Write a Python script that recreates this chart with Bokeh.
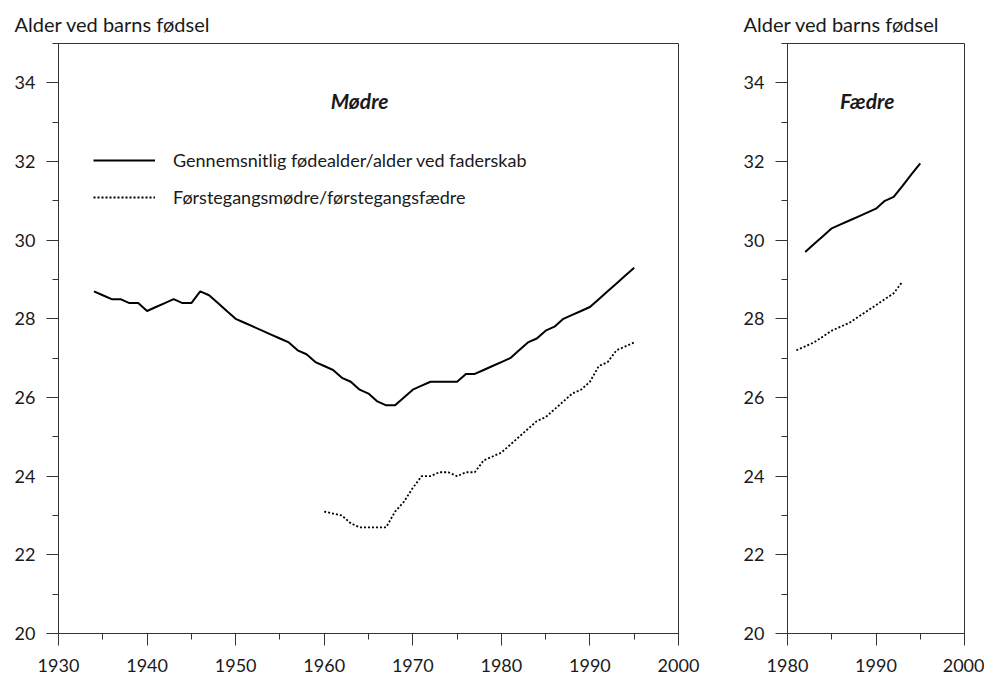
from bokeh.plotting import figure
from bokeh.layouts import row
from bokeh.models import Range1d, FixedTicker, Legend, LegendItem, Label, Title
from bokeh.embed import file_html
from bokeh.resources import INLINE

# ---- data ----
mothers_years = list(range(1934, 1996))
mothers_avg = [28.7, 28.6, 28.5, 28.5, 28.4, 28.4, 28.2, 28.3, 28.4, 28.5,
               28.4, 28.4, 28.7, 28.6, 28.4, 28.2, 28.0, 27.9, 27.8, 27.7,
               27.6, 27.5, 27.4, 27.2, 27.1, 26.9, 26.8, 26.7, 26.5, 26.4,
               26.2, 26.1, 25.9, 25.8, 25.8, 26.0, 26.2, 26.3, 26.4, 26.4,
               26.4, 26.4, 26.6, 26.6, 26.7, 26.8, 26.9, 27.0, 27.2, 27.4,
               27.5, 27.7, 27.8, 28.0, 28.1, 28.2, 28.3, 28.5, 28.7, 28.9,
               29.1, 29.3]
first_mothers_years = list(range(1960, 1996))
first_mothers = [23.1, 23.05, 23.0, 22.8, 22.7, 22.7, 22.7, 22.7, 23.1, 23.35,
                 23.7, 24.0, 24.0, 24.1, 24.1, 24.0, 24.1, 24.1, 24.4, 24.5,
                 24.6, 24.8, 25.0, 25.2, 25.4, 25.5, 25.7, 25.9, 26.1, 26.2,
                 26.4, 26.8, 26.9, 27.2, 27.3, 27.4]
fathers_years = list(range(1982, 1996))
fathers_avg = [29.7, 29.9, 30.1, 30.3, 30.4, 30.5, 30.6, 30.7, 30.8, 31.0,
               31.1, 31.38, 31.67, 31.95]
first_fathers_years = list(range(1981, 1994))
first_fathers = [27.2, 27.3, 27.4, 27.55, 27.7, 27.8, 27.9, 28.05, 28.2, 28.35,
                 28.5, 28.65, 28.95]

y_ticks = [20, 22, 24, 26, 28, 30, 32, 34]
y_minor = [21, 23, 25, 27, 29, 31, 33, 35]
x_ticks_left = [1930, 1940, 1950, 1960, 1970, 1980, 1990, 2000]
x_minor_left = [1935, 1945, 1955, 1965, 1975, 1985, 1995]
x_ticks_right = [1980, 1990, 2000]
x_minor_right = [1985, 1995]

y_title = "Alder ved barns fødsel"
legend_labels = ["Gennemsnitlig fødealder/alder ved faderskab",
                 "Førstegangsmødre/førstegangsfædre"]

FONT = "Lato"
TXT = "#1a1a1a"
AX = "#333333"
DOT = "2 2"


def style(p, xt, xm):
    p.xgrid.visible = False
    p.ygrid.visible = False
    p.outline_line_color = AX
    p.outline_line_width = 1
    p.xaxis.ticker = FixedTicker(ticks=xt, minor_ticks=xm)
    p.yaxis.ticker = FixedTicker(ticks=y_ticks, minor_ticks=y_minor)
    for ax in (p.xaxis[0], p.yaxis[0]):
        ax.axis_line_color = AX
        ax.major_tick_line_color = AX
        ax.minor_tick_line_color = AX
        ax.major_tick_in = 0
        ax.major_tick_out = 12
        ax.minor_tick_in = 0
        ax.minor_tick_out = 6
        ax.major_label_text_font = FONT
        ax.major_label_text_font_size = "18px"
        ax.major_label_text_color = TXT
    p.yaxis[0].major_label_standoff = 11
    p.xaxis[0].major_label_standoff = 13
    p.title = Title(text=y_title, align="left", offset=-44,
                    text_font=FONT, text_font_size="20px",
                    text_font_style="normal", text_color=TXT, standoff=16)


p1 = figure(width=700, height=676, x_range=Range1d(1930, 2000),
            y_range=Range1d(20, 35), output_backend="svg",
            toolbar_location=None, min_border_left=58, min_border_right=22,
            min_border_top=43, min_border_bottom=43)
style(p1, x_ticks_left, x_minor_left)
r1 = p1.line(mothers_years, mothers_avg, line_color="black", line_width=2)
r2 = p1.line(first_mothers_years, first_mothers, line_color="black",
             line_width=1.8, line_dash=DOT)
p1.add_layout(Label(x=1964, y=33.55, text="Mødre", text_font=FONT,
                    text_font_size="21px", text_font_style="bold italic",
                    text_align="center", text_baseline="middle",
                    text_color=TXT))
legend = Legend(items=[LegendItem(label=legend_labels[0], renderers=[r1]),
                       LegendItem(label=legend_labels[1], renderers=[r2])],
                location=(35, 425), padding=0, margin=0, spacing=15,
                glyph_width=62, glyph_height=22, label_height=22,
                label_standoff=18, label_text_font=FONT,
                label_text_font_size="18px", label_text_color=TXT,
                border_line_alpha=0, background_fill_alpha=0)
p1.add_layout(legend)

p2 = figure(width=284, height=676, x_range=Range1d(1980, 2000),
            y_range=Range1d(20, 35), output_backend="svg",
            toolbar_location=None, min_border_left=87, min_border_right=20,
            min_border_top=43, min_border_bottom=43)
style(p2, x_ticks_right, x_minor_right)
p2.line(fathers_years, fathers_avg, line_color="black", line_width=2)
p2.line(first_fathers_years, first_fathers, line_color="black",
        line_width=1.8, line_dash=DOT)
p2.add_layout(Label(x=1989, y=33.55, text="Fædre", text_font=FONT,
                    text_font_size="21px", text_font_style="bold italic",
                    text_align="center", text_baseline="middle",
                    text_color=TXT))

layout = row(p1, p2)
open("out.html", "w").write(file_html(layout, INLINE))
